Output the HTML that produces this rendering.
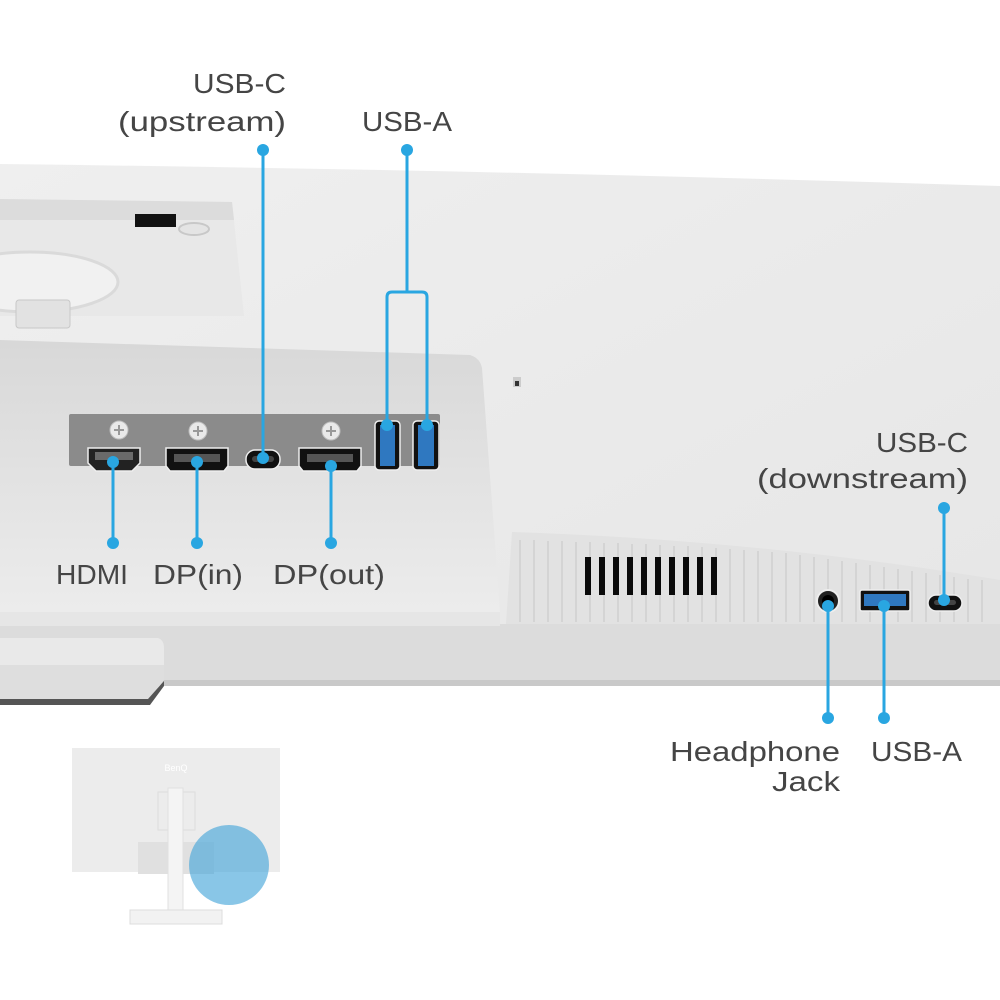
<!DOCTYPE html>
<html><head><meta charset="utf-8"><style>
html,body{margin:0;padding:0;background:#fff;}
svg{display:block}
text{font-family:"Liberation Sans","DejaVu Sans",sans-serif;fill:#454545;font-size:28px}
</style></head><body>
<svg width="1000" height="1000" viewBox="0 0 1000 1000" xmlns="http://www.w3.org/2000/svg">
<defs>
<linearGradient id="bg" x1="0" y1="0" x2="1" y2="1"><stop offset="0" stop-color="#efefef"/><stop offset="1" stop-color="#e6e6e6"/></linearGradient>
<linearGradient id="rec" x1="0" y1="0" x2="0" y2="1"><stop offset="0" stop-color="#d8d8d8"/><stop offset="0.4" stop-color="#e0e0e0"/><stop offset="1" stop-color="#ececec"/></linearGradient>
</defs>
<!-- main body -->
<path d="M0,164 Q500,170 1000,186 L1000,686 L0,686 Z" fill="url(#bg)"/>
<!-- upper stand recess -->
<path d="M0,199 L232,202 L244,316 L0,316 Z" fill="#e8e8e8"/>
<path d="M0,199 L232,202 L234,220 L0,220 Z" fill="#dcdcdc"/>
<ellipse cx="30" cy="282" rx="88" ry="30" fill="#f1f1f1" stroke="#dadada" stroke-width="3"/>
<rect x="16" y="300" width="54" height="28" rx="3" fill="#e2e2e2" stroke="#c8c8c8"/>
<rect x="135" y="214" width="41" height="13" fill="#111"/>
<ellipse cx="194" cy="229" rx="15" ry="6" fill="#e4e4e4" stroke="#c8c8c8" stroke-width="2"/>
<!-- lower recess -->
<path d="M0,340 L470,355 Q480,358 482,368 L500,612 L0,612 Z" fill="url(#rec)"/>
<!-- port panel -->
<rect x="69" y="414" width="371" height="52" rx="2" fill="#8b8b8b"/>
<g fill="#e9e9e9" stroke="#bdbdbd"><circle cx="119" cy="430" r="9"/><circle cx="198" cy="431" r="9"/><circle cx="331" cy="431" r="9"/></g>
<g stroke="#999" stroke-width="2"><path d="M119,425v10M114,430h10M198,426v10M193,431h10M331,426v10M326,431h10"/></g>
<path d="M88,448 H140 V463 L132,471 H96 L88,463 Z" fill="#222" stroke="#eee" stroke-width="1.5"/>
<rect x="95" y="452" width="38" height="8" fill="#6a6a6a"/>
<path d="M166,448 H228 V466 L224,471 H170 L166,466 Z" fill="#111" stroke="#eee" stroke-width="1.5"/>
<rect x="174" y="454" width="46" height="8" fill="#555"/>
<rect x="246" y="450" width="34" height="19" rx="9" fill="#111" stroke="#eee" stroke-width="1.5"/>
<rect x="252" y="456" width="22" height="6" rx="3" fill="#444"/>
<path d="M299,448 H361 V466 L357,471 H303 L299,466 Z" fill="#111" stroke="#eee" stroke-width="1.5"/>
<rect x="307" y="454" width="46" height="8" fill="#555"/>
<rect x="375" y="421" width="25" height="49" rx="4" fill="#111" stroke="#eee" stroke-width="1.5"/>
<rect x="380" y="425" width="15" height="41" fill="#2f78c0"/>
<rect x="413" y="421" width="26" height="49" rx="4" fill="#111" stroke="#eee" stroke-width="1.5"/>
<rect x="418" y="425" width="16" height="41" fill="#2f78c0"/>
<rect x="513" y="377" width="8" height="10" fill="#ccc"/>
<rect x="515" y="381" width="4" height="5" fill="#333"/>
<!-- vent strip -->
<path d="M512,532 Q760,540 1000,580 L1000,624 L506,624 Z" fill="#e2e2e2"/>
<g stroke="#d0d0d0" stroke-width="1.5">
<path d="M520,540V622M534,540V622M548,541V622M562,541V622M576,542V622M590,542V622M604,543V622M618,543V622M632,544V622M646,544V622M660,545V622M674,546V622M688,546V622M702,547V622M716,548V622M730,549V622M744,550V622M758,551V622M772,552V622M786,553V622M800,555V622M814,557V622M828,559V622M842,561V622M856,563V622M870,565V622M884,567V622M898,569V622M912,571V622M926,573V622M940,575V622M954,577V622M968,579V622M982,580V622"/>
</g>
<g fill="#0a0a0a">
<rect x="585" y="557" width="6" height="38"/><rect x="599" y="557" width="6" height="38"/><rect x="613" y="557" width="6" height="38"/><rect x="627" y="557" width="6" height="38"/><rect x="641" y="557" width="6" height="38"/><rect x="655" y="557" width="6" height="38"/><rect x="669" y="557" width="6" height="38"/><rect x="683" y="557" width="6" height="38"/><rect x="697" y="557" width="6" height="38"/><rect x="711" y="557" width="6" height="38"/>
</g>
<!-- front lip -->
<rect x="0" y="624" width="1000" height="56" fill="#dcdcdc"/>
<rect x="0" y="612" width="500" height="14" fill="#e6e6e6"/>
<rect x="0" y="680" width="1000" height="6" fill="#c9c9c9"/>
<!-- stand foot -->
<path d="M0,638 H158 Q164,640 164,648 V680 L148,702 H0 Z" fill="#e9e9e9"/>
<path d="M0,665 H164 V680 L148,700 H0 Z" fill="#dedede"/>
<path d="M0,699 H148 L164,681 V686 L150,705 H0 Z" fill="#555"/>
<!-- right ports -->
<circle cx="828" cy="601" r="11" fill="#222" stroke="#eee" stroke-width="2"/>
<circle cx="828" cy="601" r="6" fill="#000"/>
<rect x="860" y="590" width="50" height="21" rx="2" fill="#111" stroke="#eee" stroke-width="1.5"/>
<rect x="864" y="594" width="42" height="12" fill="#2f78c0"/>
<rect x="928" y="595" width="34" height="16" rx="8" fill="#111" stroke="#eee" stroke-width="1.5"/>
<rect x="934" y="600" width="22" height="5" rx="2.5" fill="#444"/>
<!-- connectors -->
<g stroke="#29a6e1" stroke-width="3" fill="none">
<path d="M263,150V458"/>
<path d="M407,150V292M387,425V297Q387,292 392,292H422Q427,292 427,297V425"/>
<path d="M113,462V543M197,462V543M331,466V543"/>
<path d="M944,508V600"/>
<path d="M828,606V718M884,604V718"/>
</g>
<g fill="#29a6e1">
<circle cx="263" cy="150" r="6"/><circle cx="407" cy="150" r="6"/>
<circle cx="263" cy="458" r="6"/><circle cx="387" cy="425" r="6"/><circle cx="427" cy="425" r="6"/>
<circle cx="113" cy="462" r="6"/><circle cx="197" cy="462" r="6"/><circle cx="331" cy="466" r="6"/>
<circle cx="113" cy="543" r="6"/><circle cx="197" cy="543" r="6"/><circle cx="331" cy="543" r="6"/>
<circle cx="944" cy="508" r="6"/><circle cx="944" cy="600" r="6"/>
<circle cx="828" cy="606" r="6"/><circle cx="884" cy="606" r="6"/>
<circle cx="828" cy="718" r="6"/><circle cx="884" cy="718" r="6"/>
</g>
<!-- labels -->
<text x="193" y="93" textLength="93" lengthAdjust="spacingAndGlyphs">USB-C</text>
<text x="118" y="131" textLength="168" lengthAdjust="spacingAndGlyphs">(upstream)</text>
<text x="362" y="131" textLength="90" lengthAdjust="spacingAndGlyphs">USB-A</text>
<text x="56" y="584" textLength="72" lengthAdjust="spacingAndGlyphs">HDMI</text>
<text x="153" y="584" textLength="90" lengthAdjust="spacingAndGlyphs">DP(in)</text>
<text x="273" y="584" textLength="112" lengthAdjust="spacingAndGlyphs">DP(out)</text>
<text x="876" y="452" textLength="92" lengthAdjust="spacingAndGlyphs">USB-C</text>
<text x="757" y="488" textLength="211" lengthAdjust="spacingAndGlyphs">(downstream)</text>
<text x="670" y="761" textLength="170" lengthAdjust="spacingAndGlyphs">Headphone</text>
<text x="772" y="791" textLength="68" lengthAdjust="spacingAndGlyphs">Jack</text>
<text x="871" y="761" textLength="91" lengthAdjust="spacingAndGlyphs">USB-A</text>
<!-- thumbnail -->
<rect x="72" y="748" width="208" height="124" fill="#ececec"/>
<text x="176" y="771" text-anchor="middle" style="font-size:9px;fill:#fff">BenQ</text>
<rect x="158" y="792" width="37" height="38" fill="none" stroke="#ddd"/>
<rect x="138" y="842" width="76" height="32" fill="#e0e0e0"/>
<rect x="168" y="788" width="15" height="122" fill="#f4f4f4" stroke="#e0e0e0"/>
<rect x="130" y="910" width="92" height="14" fill="#f2f2f2" stroke="#ddd"/>
<circle cx="229" cy="865" r="40" fill="#4aa8da" fill-opacity="0.65"/>
</svg>
</body></html>
